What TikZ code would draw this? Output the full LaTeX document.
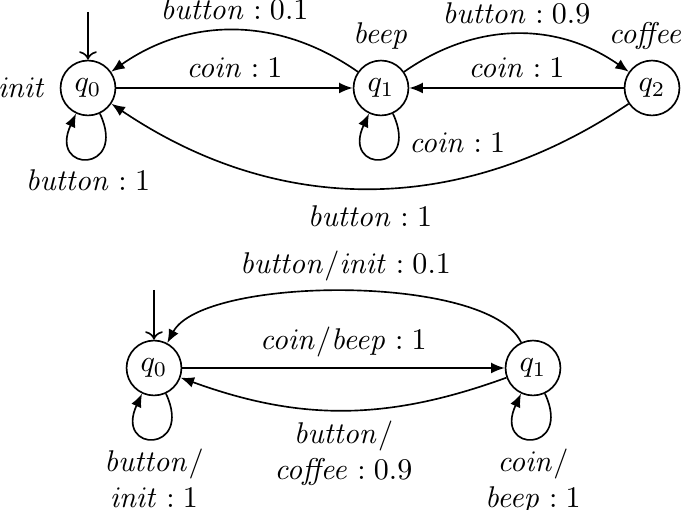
\documentclass[tikz,border=0pt]{standalone}
\usetikzlibrary{arrows.meta}
\begin{document}
\begin{tikzpicture}[x=0.33333pt,y=-0.33333pt, line width=0.55pt,
  st/.style={circle,draw,minimum size=18.3pt,inner sep=0pt},
  tr/.style={-{Latex[length=4.5pt,width=3.6pt]}},
  ini/.style={->},
  selfloop/.style={loop,out=-65,in=-115,min distance=22pt}]
\useasboundingbox (0,0) rectangle (685,510);
% top automaton
\node[st,label={[label distance=1pt]left:$\mathit{init}$}] (a0) at (88,88) {$q_0$};
\node[st,label=above:$\mathit{beep}$] (a1) at (381,88) {$q_1$};
\node[st,label={[xshift=-2pt]above:$\mathit{coffee}$}] (a2) at (652,88) {$q_2$};
\coordinate (s0) at (88,12);
\draw[ini] (s0) -- (a0);
\draw[tr] (a0) -- node[above] {$\mathit{coin}:1$} (a1);
\draw[tr] (a1) to[out=145,in=35] node[above] {$\mathit{button}:0.1$} (a0);
\draw[tr] (a1) to[out=35,in=145] node[above] {$\mathit{button}:0.9$} (a2);
\draw[tr] (a2) -- node[above] {$\mathit{coin}:1$} (a1);
\draw[tr] (a2) to[out=-146,in=-34] node[below,yshift=-2pt] {$\mathit{button}:1$} (a0);
\draw[tr] (a0) to[selfloop] node[below] {$\mathit{button}:1$} (a0);
\draw[tr] (a1) to[selfloop] node[pos=0.2,right] {$\mathit{coin}:1$} (a1);
% bottom automaton
\node[st] (b0) at (154,368) {$q_0$};
\node[st] (b1) at (533,368) {$q_1$};
\coordinate (s1) at (154,290);
\draw[ini] (s1) -- (b0);
\draw[tr] (b0) -- node[above] {$\mathit{coin}/\mathit{beep}:1$} (b1);
\draw[tr] (b1) to[out=115,in=62,looseness=0.55] node[above] {$\mathit{button}/\mathit{init}:0.1$} (b0);
\draw[tr] (b1) to[out=-160,in=-20] node[below,align=center] {$\mathit{button}/$\\$\mathit{coffee}:0.9$} (b0);
\draw[tr] (b0) to[selfloop] node[below,align=center] {$\mathit{button}/$\\$\mathit{init}:1$} (b0);
\draw[tr] (b1) to[selfloop] node[below,align=center] {$\mathit{coin}/$\\$\mathit{beep}:1$} (b1);
\end{tikzpicture}
\end{document}
